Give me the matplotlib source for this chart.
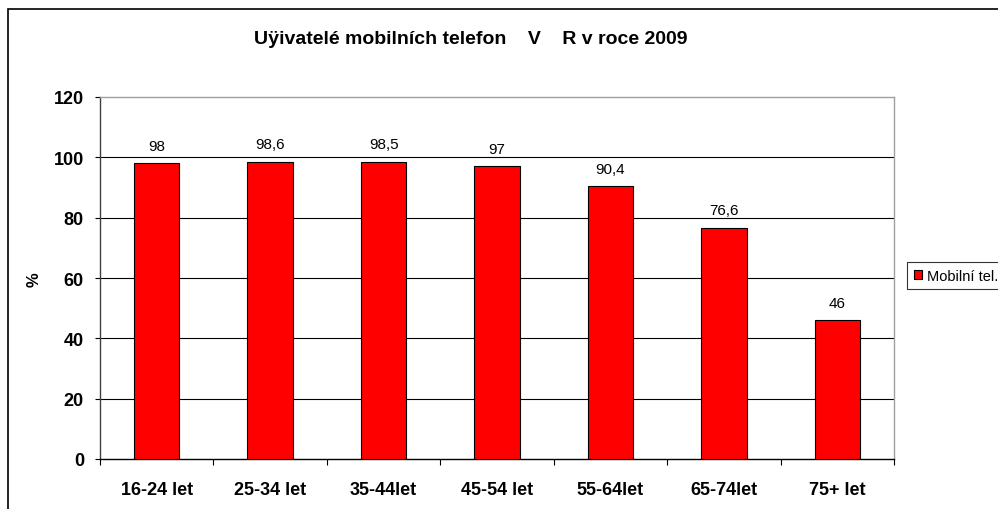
import matplotlib.pyplot as plt
import numpy as np
from matplotlib.patches import Rectangle

categories = ['16-24 let', '25-34 let', '35-44let', '45-54 let', '55-64let', '65-74let', '75+ let']
values = [98, 98.6, 98.5, 97, 90.4, 76.6, 46]
value_labels = ['98', '98,6', '98,5', '97', '90,4', '76,6', '46']
yticks = [0, 20, 40, 60, 80, 100, 120]

plt.rcParams['font.family'] = ['Liberation Sans', 'DejaVu Sans']

fig = plt.figure(figsize=(9.98, 5.10), dpi=100)
ax = fig.add_axes([100 / 998, 1 - 460 / 510, 794 / 998, 362 / 510])

x = np.arange(len(categories))
ax.bar(x, values, width=0.4, color='#ff0000', edgecolor='black', linewidth=0.8,
       label='Mobilní tel.', zorder=3)

for xi, v, lab in zip(x, values, value_labels):
    ax.text(xi, v + 3.5, lab, ha='center', va='bottom', fontsize=11)

ax.set_xlim(-0.5, len(categories) - 0.5)
ax.set_ylim(0, 120)
ax.set_yticks(yticks)
ax.set_yticklabels([str(t) for t in yticks], fontsize=13, fontweight='bold')
ax.set_xticks(x)
ax.set_xticklabels(categories, fontsize=13, fontweight='bold')
ax.tick_params(axis='x', length=0, pad=16)
# category boundary ticks
ax.set_xticks(np.arange(len(categories) + 1) - 0.5, minor=True)
ax.tick_params(axis='x', which='minor', length=4.3, color='black', width=0.8)
ax.tick_params(axis='y', length=3.6, width=0.8, pad=8)

for t in yticks[1:-1]:
    ax.axhline(t, color='black', linewidth=0.8, zorder=1)

ax.spines['top'].set_color('#a0a0a0')
ax.spines['right'].set_color('#a0a0a0')
ax.spines['left'].set_color('#404040')
for s in ax.spines.values():
    s.set_linewidth(1.0)

fig.text(34 / 998, 1 - 280 / 510, '%', rotation=90, ha='center', va='center',
         fontsize=12, fontweight='bold')

fig.text(471 / 998, 1 - 40 / 510, 'Uÿivatelé mobilních telefon    V    R v roce 2009',
         ha='center', va='center', fontsize=14, fontweight='bold')

leg = ax.legend(loc='upper left', bbox_to_anchor=(907 / 998, 1 - 263 / 510),
                bbox_transform=fig.transFigure, fontsize=10.5, frameon=True,
                fancybox=False, handlelength=0.6, handleheight=0.6,
                handletextpad=0.35, borderpad=0.45, borderaxespad=0)
leg.get_frame().set_edgecolor('black')
leg.get_frame().set_linewidth(0.8)

# outer chart border (extends past the image edges)
fig.patches.append(Rectangle((8 / 998, -0.1), 1.2, 1 - 10 / 510 + 0.1,
                             transform=fig.transFigure, fill=False,
                             edgecolor='black', linewidth=1.2))

plt.savefig('out.png', dpi=100)
